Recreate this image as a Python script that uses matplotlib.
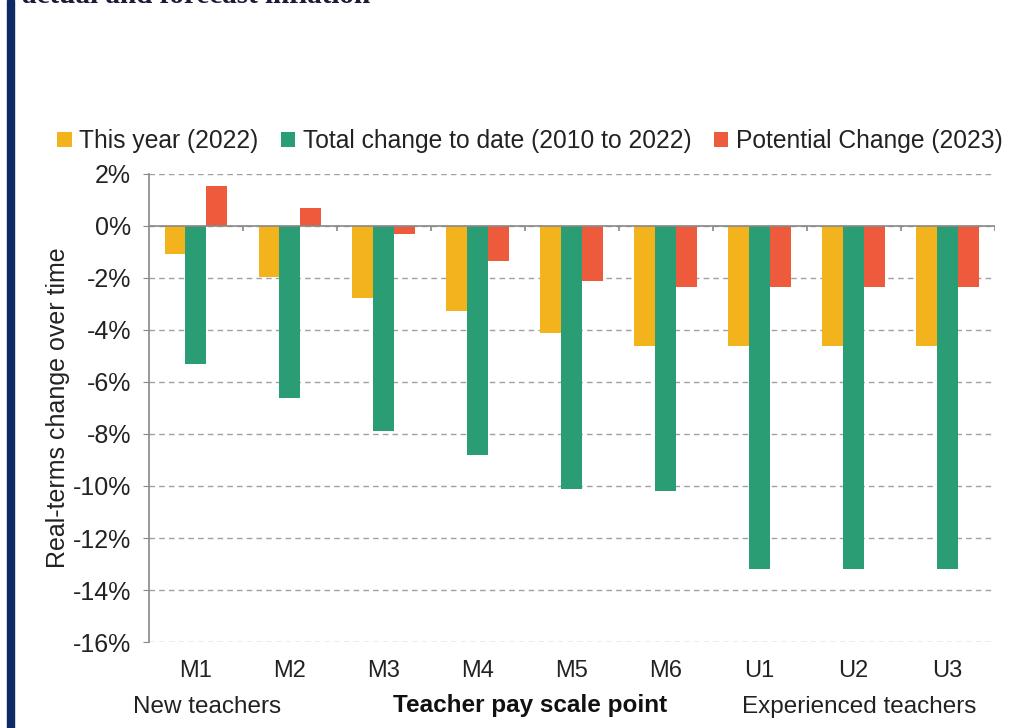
import numpy as np
import matplotlib.pyplot as plt
from matplotlib.patches import Rectangle

plt.rcParams['font.family'] = ['Liberation Sans', 'DejaVu Sans']

# data
pay_points = ['M1', 'M2', 'M3', 'M4', 'M5', 'M6', 'U1', 'U2', 'U3']
this_year = [-1.08, -1.95, -2.77, -3.26, -4.12, -4.6, -4.6, -4.6, -4.6]
total_change = [-5.3, -6.6, -7.9, -8.8, -10.1, -10.2, -13.2, -13.2, -13.2]
potential_change = [1.55, 0.69, -0.3, -1.35, -2.12, -2.35, -2.35, -2.35, -2.35]
series_names = ['This year (2022)', 'Total change to date (2010 to 2022)',
                'Potential Change (2023)']
colors = ['#F2B31C', '#2A9D74', '#EE5A3C']
y_ticks = np.arange(-16, 3, 2)

fig = plt.figure(figsize=(10.17, 7.28), dpi=100)
ax = fig.add_axes([0.1465, 0.1181, 0.8315, 0.643])

x = np.arange(len(pay_points))
width = 0.223
for i, (vals, name, c) in enumerate(zip([this_year, total_change, potential_change],
                                        series_names, colors)):
    ax.bar(x + (i - 1) * width, vals, width, color=c, label=name, zorder=3)

ax.set_xlim(-0.5, len(pay_points) - 0.5)
ax.set_ylim(-16, 2)
ax.set_yticks(y_ticks)
ax.set_yticklabels([f'{v}%' for v in y_ticks], fontsize=18, color='#222222')
ax.grid(axis='y', linestyle=(0, (4, 3)), color='#a0a0a0', linewidth=1, zorder=0)

# zero line with category separator ticks
ax.axhline(0, color='#888888', linewidth=1.2, zorder=4)
bounds = np.arange(len(pay_points) + 1) - 0.5
ax.vlines(bounds[1:], -0.2, 0, color='#888888', linewidth=1.2, zorder=4)

ax.set_xticks(x)
ax.set_xticklabels(pay_points, fontsize=17, color='#222222')
ax.tick_params(axis='x', length=0, pad=13)
ax.tick_params(axis='y', length=4, color='#888888', pad=9)

for s in ['top', 'right', 'bottom']:
    ax.spines[s].set_visible(False)
ax.spines['left'].set_color('#888888')
ax.spines['left'].set_linewidth(1.2)

ax.set_ylabel('Real-terms change over time', fontsize=18, color='#222222', labelpad=2)

fig.legend(loc='center', bbox_to_anchor=(0.521, 0.806), ncol=3, frameon=False,
           fontsize=17.7, handlelength=0.6, handleheight=0.6, handletextpad=0.3,
           columnspacing=0.9, labelcolor='#222222')

fig.text(0.204, 0.029, 'New teachers', fontsize=17.5, ha='center', va='center',
         color='#222222')
fig.text(0.521, 0.031, 'Teacher pay scale point', fontsize=17.5, ha='center',
         va='center', fontweight='bold', color='#111111')
fig.text(0.845, 0.029, 'Experienced teachers', fontsize=17.5, ha='center',
         va='center', color='#222222')

# page decoration: left border and cut-off title
fig.patches.append(Rectangle((0.007, 0), 0.007, 1, transform=fig.transFigure,
                             color='#0B2A66', zorder=10))
fig.text(0.022, 0.9958, 'actual and forecast inflation', fontsize=21,
         fontweight='bold', family='Liberation Serif', color='#1a1a3a',
         ha='left', va='baseline')

fig.savefig('out.png', dpi=100)
